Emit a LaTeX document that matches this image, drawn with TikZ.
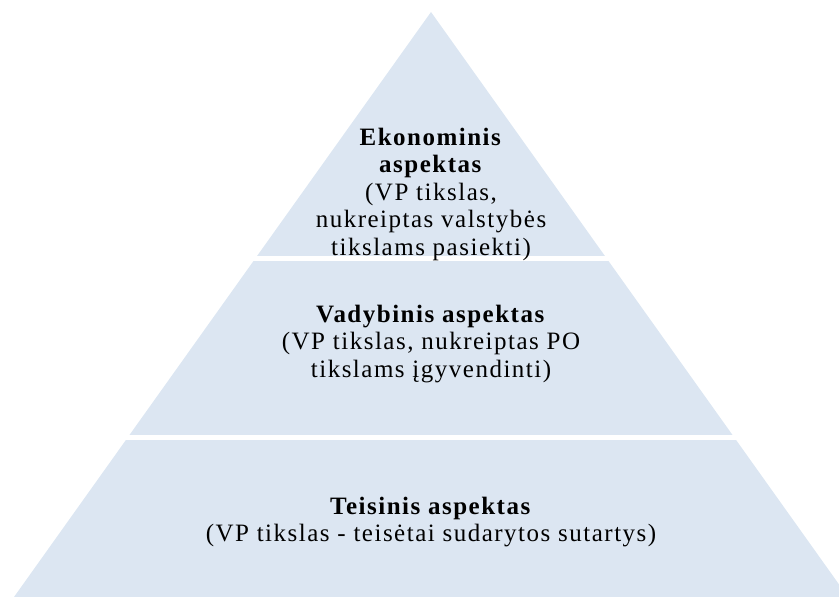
\documentclass[tikz,border=0pt]{standalone}
\usepackage{fontspec}
\setmainfont{Liberation Serif}[LetterSpace=6]
\usepackage{tikz}
\usetikzlibrary{positioning}
\definecolor{pyrblue}{HTML}{DCE6F2}

\begin{document}
\begin{tikzpicture}[
  x=1pt, y=1pt,
  layer/.style={fill=pyrblue},
  gap/.style={fill=white},
  txt/.style={align=center, font=\fontsize{25}{27.5}\selectfont, inner sep=0pt}
]
  \useasboundingbox (0,0) rectangle (839,597);
  \clip (0,0) rectangle (839,597);

  % Pyramid body
  \fill[layer] (14,0) -- (431,585) -- (848,0) -- cycle;

  % White gaps between the layers
  \fill[gap] (0,336) rectangle (839,341);
  \fill[gap] (0,157) rectangle (839,162);

  % Top layer
  \node[txt] (ekon) at (431,403)
    {\textbf{Ekonominis}\\ \textbf{aspektas}\\ (VP tikslas,\\
     nukreiptas valstybės\\ tikslams pasiekti)};

  % Middle layer
  \node[txt] (vadyb) at (431,253)
    {\textbf{Vadybinis aspektas}\\ (VP tikslas, nukreiptas PO\\
     tikslams įgyvendinti)};

  % Bottom layer
  \node[txt] (teis) at (431,75)
    {\textbf{Teisinis aspektas}\\ (VP tikslas - teisėtai sudarytos sutartys)};
\end{tikzpicture}
\end{document}
